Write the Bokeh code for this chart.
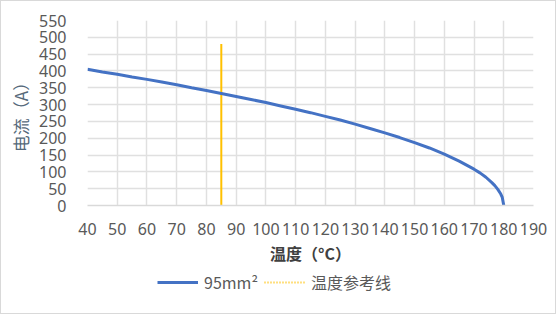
from bokeh.plotting import figure
from bokeh.models import FixedTicker, Legend, LegendItem
from bokeh.layouts import column
from bokeh.embed import file_html
from bokeh.resources import INLINE

# data
temp = [40, 45, 50, 55, 60, 65, 70, 75, 80, 85, 90, 95, 100, 105, 110, 115, 120,
        125, 130, 135, 140, 145, 150, 155, 160, 165, 170, 172, 174, 176, 177, 178,
        179, 179.5, 180]
current = [405, 397, 390, 382, 375, 367, 359, 350, 342, 333, 324, 315, 306, 296,
           286, 276, 265, 254, 242, 229, 216, 202, 187, 171, 153, 132, 108, 97, 84,
           68, 59, 48, 34, 24, 0]
ref_x = [85, 85]
ref_y = [0, 480]
x_ticks = [40, 50, 60, 70, 80, 90, 100, 110, 120, 130, 140, 150, 160, 170, 180, 190]
y_ticks = [0, 50, 100, 150, 200, 250, 300, 350, 400, 450, 500, 550]
series_name = "95mm²"
ref_name = "温度参考线"

p = figure(width=557, height=270, output_backend="svg", toolbar_location=None,
           x_range=(40, 190), y_range=(0, 550),
           min_border_left=87, min_border_right=24, min_border_top=20,
           min_border_bottom=65)
p.outline_line_color = None
p.background_fill_color = "white"
p.border_fill_color = "white"

for ax in (p.xaxis[0], p.yaxis[0]):
    ax.major_tick_line_color = None
    ax.minor_tick_line_color = None
    ax.major_label_text_font = "Noto Sans"
    ax.major_label_text_font_size = "16px"
    ax.major_label_text_color = "#595959"

p.xaxis.ticker = FixedTicker(ticks=x_ticks)
p.yaxis.ticker = FixedTicker(ticks=y_ticks)
p.xaxis.axis_line_color = "#d9d9d9"
p.xaxis.axis_line_width = 1.5
p.yaxis.axis_line_color = None
p.xaxis.major_label_standoff = 11
p.yaxis.major_label_standoff = 15

p.xaxis.axis_label = "温度（°C）"
p.xaxis.axis_label_text_font = "Noto Sans CJK SC"
p.xaxis.axis_label_text_font_style = "bold"
p.xaxis.axis_label_text_font_size = "16px"
p.xaxis.axis_label_text_color = "#404040"
p.xaxis.axis_label_standoff = 3

p.yaxis.axis_label = "电流（A）"
p.yaxis.axis_label_text_font = "Noto Sans CJK SC"
p.yaxis.axis_label_text_font_style = "normal"
p.yaxis.axis_label_text_font_size = "17px"
p.yaxis.axis_label_text_color = "#55697a"
p.yaxis.axis_label_standoff = 3

p.xgrid.ticker = FixedTicker(ticks=x_ticks)
p.ygrid.ticker = FixedTicker(ticks=y_ticks)
p.xgrid.grid_line_color = "#e0e0e0"
p.ygrid.grid_line_color = "#e0e0e0"
p.xgrid.grid_line_width = 1.5
p.ygrid.grid_line_width = 1.5

p.line(ref_x, ref_y, line_color="#ffc000", line_width=2)
p.line(temp, current, line_color="#4472c4", line_width=3)

# legend strip below the chart (dummy renderers kept outside the visible range)
q = figure(width=557, height=45, output_backend="svg", toolbar_location=None,
           x_range=(0, 1), y_range=(0, 1), min_border=0)
q.axis.visible = False
q.grid.visible = False
q.outline_line_color = None
q.border_fill_color = "white"
q.background_fill_color = "white"
lg_curve = q.line(x=[5, 6], y=[5, 6], line_color="#4472c4", line_width=3)
lg_ref = q.line(x=[5, 6], y=[5, 6], line_color="#ffc000", line_width=2,
                line_dash="1 2")

legend = Legend(items=[LegendItem(label=series_name, renderers=[lg_curve]),
                       LegendItem(label=ref_name, renderers=[lg_ref])],
                orientation="horizontal", location=(70, 21))
legend.label_text_font = "Noto Sans CJK SC"
legend.label_text_font_size = "16px"
legend.label_text_color = "#595959"
legend.border_line_color = None
legend.background_fill_alpha = 0
legend.glyph_width = 41
legend.glyph_height = 20
legend.label_standoff = 6
legend.spacing = 6
legend.padding = 0
legend.margin = 0
q.add_layout(legend, "center")

layout = column(p, q, spacing=0)

html = file_html(layout, INLINE)
css = ("<style>body{margin:0}body::after{content:'';position:fixed;left:0;top:0;"
       "width:556px;height:314px;box-sizing:border-box;border:1px solid #d9d9d9;"
       "pointer-events:none;z-index:10}</style>")
html = html.replace("</head>", css + "</head>")
open("out.html", "w").write(html)
